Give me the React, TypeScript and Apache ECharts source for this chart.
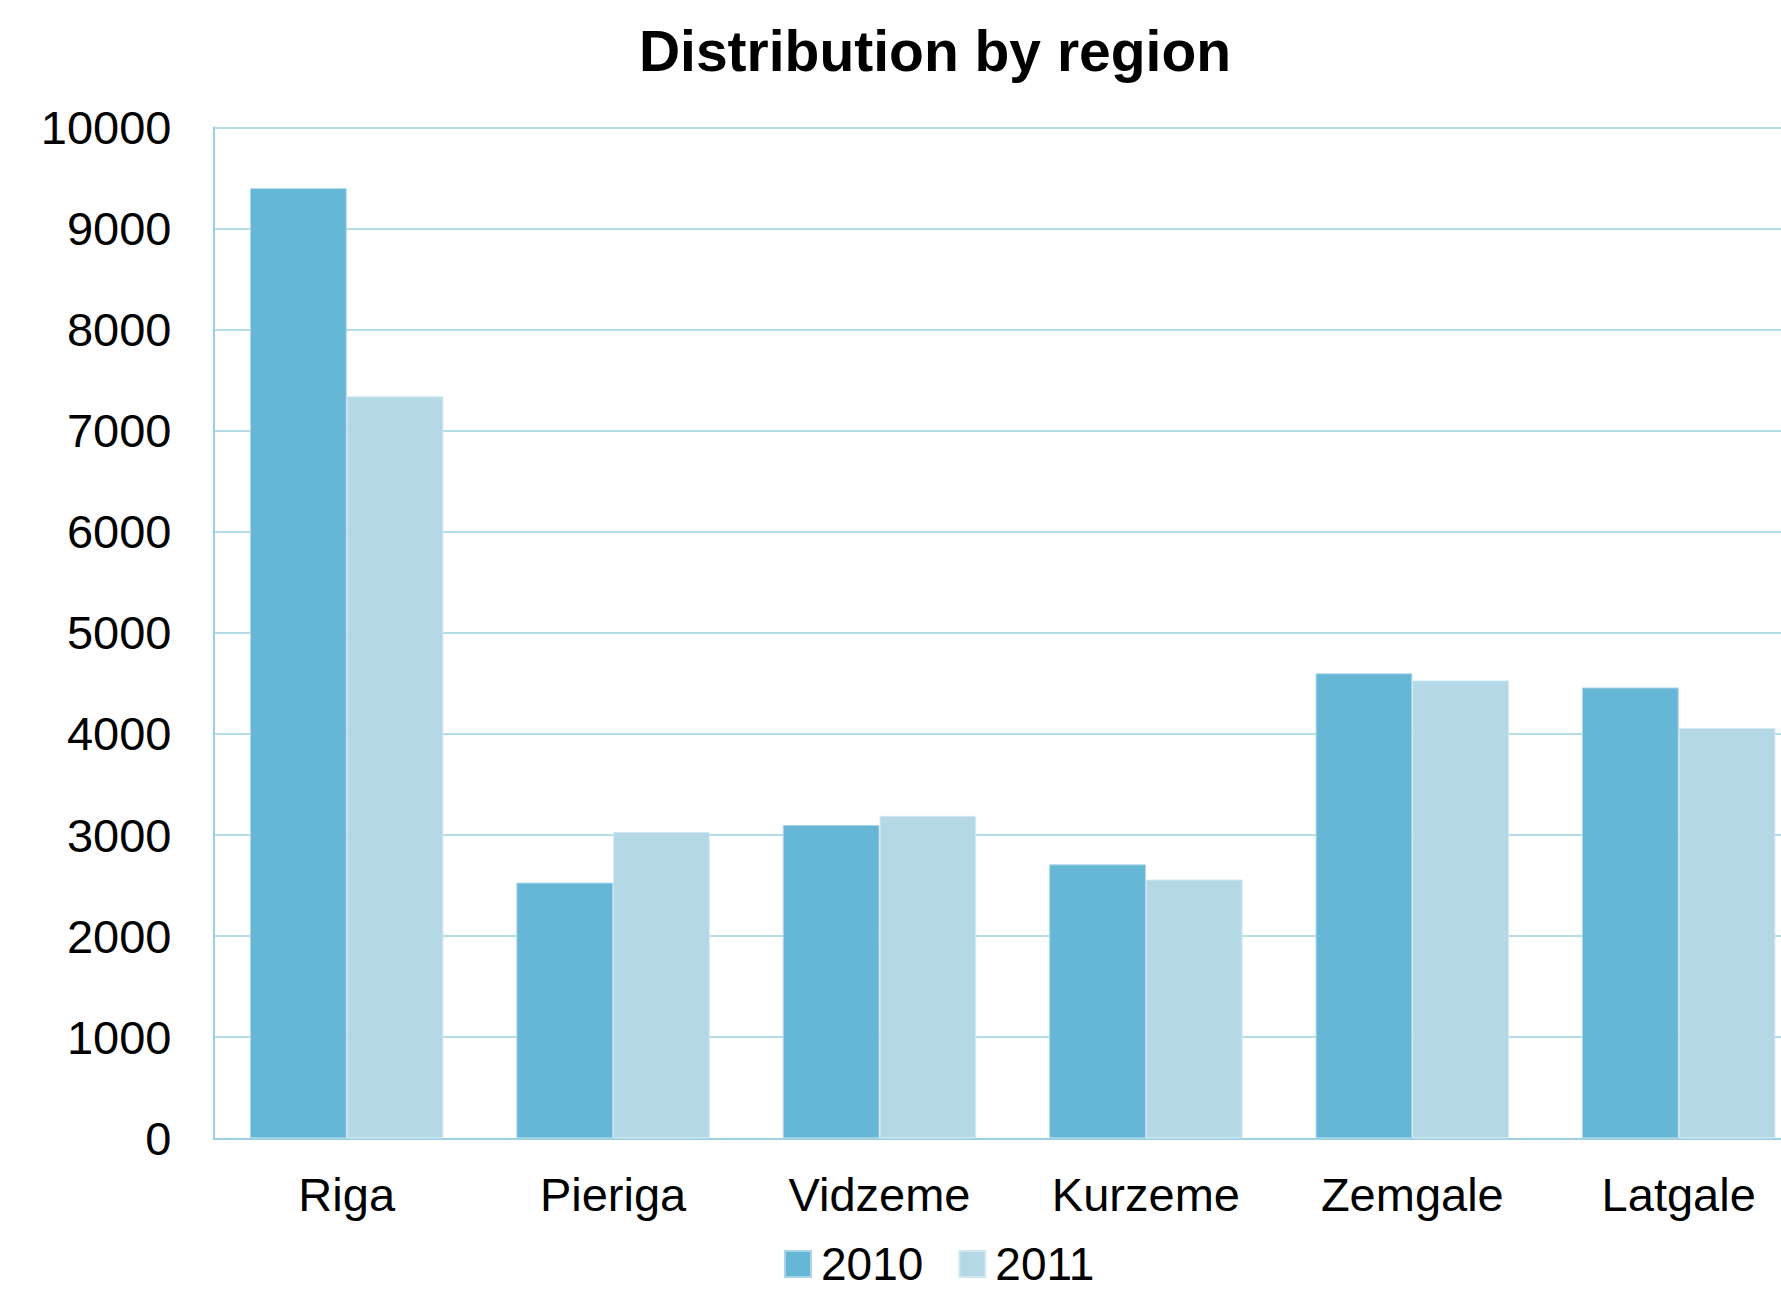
import React, { useEffect, useRef } from "react";
import * as echarts from "echarts";

const regions = ["Riga", "Pieriga", "Vidzeme", "Kurzeme", "Zemgale", "Latgale"];
const values2010 = [9400, 2530, 3100, 2710, 4600, 4460];
const values2011 = [7340, 3030, 3190, 2560, 4530, 4060];
const seriesNames = ["2010", "2011"];
const yTicks = { min: 0, max: 10000, interval: 1000 };

const FONT = '"Liberation Sans", Arial, Helvetica, sans-serif';
const C2010 = "#66b7d6";
const C2011 = "#b4d8e6";
const GRID = "#9dd0e2";

export default function App() {
  const ref = useRef<HTMLDivElement>(null);
  useEffect(() => {
    if (!ref.current) return;
    document.body.style.overflow = "hidden";
    const chart = echarts.init(ref.current, null, { renderer: "svg" });
    chart.setOption({
      animation: false,
      backgroundColor: "#ffffff",
      title: {
        text: "Distribution by region",
        left: 930,
        textAlign: "center",
        top: 17,
        textStyle: { fontFamily: FONT, fontSize: 57, fontWeight: "bold", color: "#000" },
      },
      legend: {
        data: seriesNames,
        left: 779,
        top: 1236,
        itemWidth: 26,
        itemHeight: 26,
        itemGap: 35,
        icon: "rect",
        textStyle: { fontFamily: FONT, fontSize: 46, color: "#000", padding: [0, 0, 0, 5] },
      },
      grid: { left: 213.5, top: 127.5, width: 1598.4, height: 1010.8, containLabel: false },
      xAxis: {
        type: "category",
        data: regions,
        axisTick: { show: false },
        axisLine: { show: true, lineStyle: { color: GRID, width: 2 } },
        axisLabel: { fontFamily: FONT, fontSize: 47, color: "#000", margin: 33 },
      },
      yAxis: {
        type: "value",
        min: yTicks.min,
        max: yTicks.max,
        interval: yTicks.interval,
        axisLine: { show: true, lineStyle: { color: GRID, width: 2 } },
        axisTick: { show: false },
        splitLine: { show: true, lineStyle: { color: GRID, width: 1.5 } },
        axisLabel: {
          fontFamily: FONT,
          fontSize: 47,
          color: "#000",
          margin: 42,
          formatter: (v: number) => String(v),
        },
      },
      series: [
        {
          name: seriesNames[0],
          type: "bar",
          data: values2010,
          barWidth: 96.7,
          barGap: "0%",
          itemStyle: { color: C2010, borderColor: "#a8d6e8", borderWidth: 1 },
        },
        {
          name: seriesNames[1],
          type: "bar",
          data: values2011,
          barWidth: 96.7,
          barGap: "0%",
          itemStyle: { color: C2011, borderColor: "#d2e9f2", borderWidth: 1 },
        },
      ],
    });
    return () => chart.dispose();
  }, []);
  return (
    <div
      ref={ref}
      style={{ position: "fixed", left: 0, top: 0, width: 1840, height: 1289 }}
    />
  );
}
